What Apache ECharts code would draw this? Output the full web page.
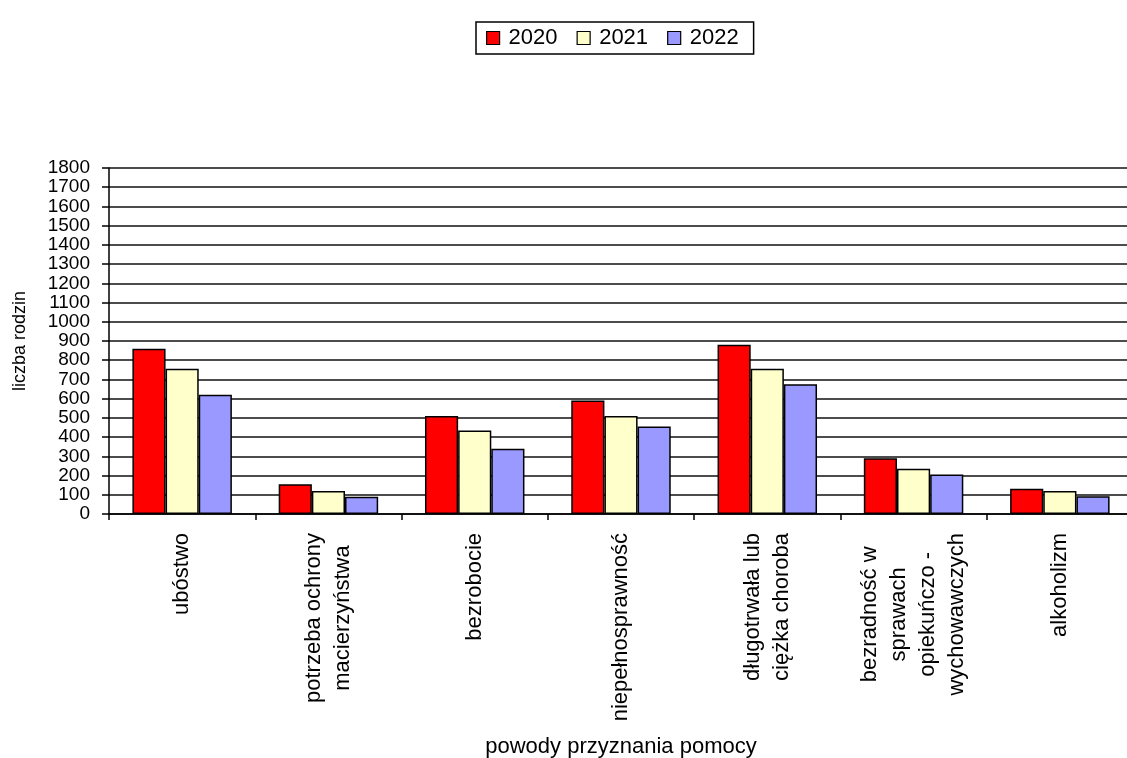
<!DOCTYPE html>
<html>
<head>
<meta charset="utf-8">
<script src="https://cdn.jsdelivr.net/npm/echarts@6/dist/echarts.min.js"></script>
<style>
html,body{margin:0;padding:0;background:#fff;}
#c{width:1127px;height:758px;}
</style>
</head>
<body>
<div id="c"></div>
<script>
const categories = [
  'ubóstwo',
  'potrzeba ochrony\nmacierzyństwa',
  'bezrobocie',
  'niepełnosprawność',
  'długotrwała lub\nciężka choroba',
  'bezradność w\nsprawach\nopiekuńczo -\nwychowawczych',
  'alkoholizm'
];
const seriesNames = ['2020', '2021', '2022'];
const values2020 = [860, 155, 510, 590, 880, 290, 132];
const values2021 = [755, 120, 435, 510, 755, 235, 120];
const values2022 = [620, 90, 340, 455, 675, 205, 92];
const colors = ['#FF0000', '#FFFFCC', '#9999FF'];

const FONT = '"Liberation Sans", Arial, sans-serif';
const chart = echarts.init(document.getElementById('c'), null, {renderer: 'canvas'});

function bar(name, data, color) {
  return {
    name: name,
    type: 'bar',
    data: data,
    barGap: '0%',
    barCategoryGap: '32%',
    itemStyle: {color: color, borderColor: '#000', borderWidth: 1.5},
    emphasis: {disabled: true}
  };
}

chart.setOption({
  animation: false,
  backgroundColor: '#fff',
  legend: {
    data: seriesNames,
    left: 476,
    top: 22,
    orient: 'horizontal',
    padding: [5, 15, 5, 10],
    itemGap: 19,
    itemWidth: 13,
    itemHeight: 13,
    borderColor: '#000',
    borderWidth: 1.5,
    selectedMode: false,
    icon: 'rect',
    itemStyle: {borderColor: '#000', borderWidth: 1.2},
    textStyle: {fontFamily: FONT, fontSize: 22, color: '#000', padding: [0, 0, 0, 4], lineHeight: 22}
  },
  grid: {
    left: 109,
    right: -6,
    top: 168,
    bottom: 244,
    containLabel: false,
    outerBoundsMode: 'none'
  },
  xAxis: {
    type: 'category',
    data: categories,
    boundaryGap: true,
    name: 'powody przyznania pomocy',
    nameLocation: 'middle',
    nameGap: 222,
    nameTextStyle: {fontFamily: FONT, fontSize: 22, color: '#000'},
    axisLine: {lineStyle: {color: '#000', width: 1.5}},
    axisTick: {show: true, length: 6, lineStyle: {color: '#000', width: 1.5}},
    axisLabel: {
      interval: 0,
      rotate: 90,
      margin: 19,
      color: '#000',
      fontFamily: FONT,
      fontSize: 22,
      lineHeight: 29,
      formatter: function (v) {
        return v.split('\n').map(function (l) { return '{c|' + l + '}'; }).join('\n');
      },
      rich: {
        c: {align: 'center', fontFamily: FONT, fontSize: 22, lineHeight: 29, color: '#000'}
      }
    },
    splitLine: {show: false}
  },
  yAxis: {
    type: 'value',
    min: 0,
    max: 1800,
    interval: 100,
    name: 'liczba rodzin',
    nameLocation: 'middle',
    nameGap: 80,
    nameRotate: 90,
    nameTextStyle: {fontFamily: FONT, fontSize: 18, color: '#000'},
    axisLine: {show: true, lineStyle: {color: '#000', width: 1.5}},
    axisTick: {show: true, length: 7, lineStyle: {color: '#000', width: 1.5}},
    axisLabel: {
      margin: 19, color: '#000', fontFamily: FONT, fontSize: 19,
      formatter: function (v) { return String(v); }
    },
    splitLine: {show: true, lineStyle: {color: '#111', width: 1.6}}
  },
  series: [
    bar(seriesNames[0], values2020, colors[0]),
    bar(seriesNames[1], values2021, colors[1]),
    bar(seriesNames[2], values2022, colors[2])
  ]
});
</script>
</body>
</html>
